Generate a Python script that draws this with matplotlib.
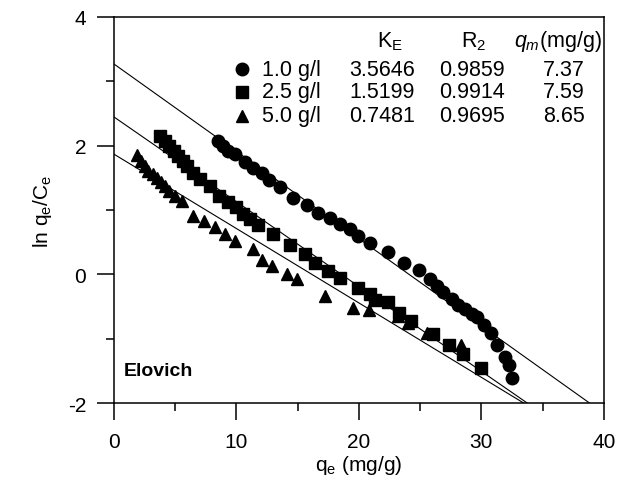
import numpy as np
import matplotlib
matplotlib.use('Agg')
import matplotlib.pyplot as plt

plt.rcParams['font.family'] = ['Liberation Sans', 'DejaVu Sans']
plt.rcParams['mathtext.fontset'] = 'custom'
plt.rcParams['mathtext.rm'] = 'Liberation Sans'
plt.rcParams['mathtext.it'] = 'Liberation Sans:italic'
plt.rcParams['axes.unicode_minus'] = False

# 1.0 g/l (circles)
qe_1 = [8.51, 8.92, 9.33, 9.88, 10.69, 11.37, 12.06, 12.68, 13.55, 14.64, 15.73, 16.68,
        17.63, 18.45, 19.27, 19.92, 20.90, 22.39, 23.70, 24.92, 25.80, 26.34, 26.88,
        27.57, 28.11, 28.65, 29.20, 29.61, 30.23, 30.75, 31.24, 31.92, 32.27, 32.51]
lnq_1 = [2.07, 2.00, 1.92, 1.87, 1.75, 1.66, 1.58, 1.46, 1.35, 1.19, 1.07, 0.96,
         0.88, 0.78, 0.70, 0.60, 0.48, 0.35, 0.18, 0.07, -0.07, -0.18, -0.28,
         -0.39, -0.47, -0.54, -0.61, -0.67, -0.78, -0.91, -1.10, -1.28, -1.41, -1.61]

# 2.5 g/l (squares)
qe_2 = [3.76, 4.16, 4.51, 4.90, 5.25, 5.66, 5.98, 6.47, 7.02, 7.84, 8.60, 9.33, 9.96,
        10.55, 11.10, 11.78, 13.00, 14.37, 15.59, 16.41, 17.49, 18.45, 19.94, 20.90,
        21.31, 22.39, 23.29, 24.22, 26.07, 27.35, 28.52, 29.96]
lnq_2 = [2.15, 2.07, 2.00, 1.92, 1.84, 1.76, 1.68, 1.58, 1.48, 1.37, 1.22, 1.12, 1.04,
         0.93, 0.86, 0.76, 0.62, 0.45, 0.31, 0.18, 0.05, -0.05, -0.21, -0.30,
         -0.40, -0.43, -0.60, -0.73, -0.92, -1.10, -1.24, -1.45]

# 5.0 g/l (triangles)
qe_3 = [1.85, 2.18, 2.53, 2.80, 3.16, 3.49, 3.81, 4.16, 4.51, 4.98, 5.53, 6.47, 7.37,
        8.24, 9.06, 9.88, 11.37, 12.06, 12.87, 14.10, 14.91, 17.22, 19.53, 20.84,
        23.16, 24.03, 25.53, 28.30]
lnq_3 = [1.85, 1.76, 1.68, 1.60, 1.56, 1.49, 1.43, 1.37, 1.30, 1.22, 1.14, 0.91, 0.83,
         0.73, 0.62, 0.52, 0.39, 0.23, 0.13, 0.00, -0.08, -0.34, -0.52, -0.56,
         -0.65, -0.76, -0.91, -1.10]

doses = ['1.0 g/l', '2.5 g/l', '5.0 g/l']
ke = ['3.5646', '1.5199', '0.7481']
r2 = ['0.9859', '0.9914', '0.9695']
qm = ['7.37', '7.59', '8.65']
markers = ['o', 's', '^']
msizes = [9, 8, 9]

# Elovich fit: ln(qe/Ce) = ln(KE*qm) - qe/qm
fit_x = [0, 40]

fig = plt.figure(figsize=(6.28, 4.85), dpi=100)
ax = fig.add_axes([0.1815, 0.167, 0.780, 0.796])

for k, q in zip(ke, qm):
    b = np.log(float(k) * float(q))
    ax.plot(fit_x, [b - x / float(q) for x in fit_x], color='black', lw=0.8)

for xs, ys, m, s in zip([qe_1, qe_2, qe_3], [lnq_1, lnq_2, lnq_3], markers, msizes):
    ax.plot(xs, ys, m, color='black', ms=s, mec='black', ls='none')

ax.set_xlim(0, 40)
ax.set_ylim(-2, 4)
ax.set_xticks([0, 10, 20, 30, 40])
ax.set_xticks([5, 15, 25, 35], minor=True)
ax.set_yticks([-2, 0, 2, 4])
ax.set_yticks([-1, 1, 3], minor=True)
ax.tick_params(which='major', direction='out', length=12, width=1.1, labelsize=15, pad=9)
ax.tick_params(which='minor', direction='out', length=6, width=1.1)
ax.tick_params(axis='y', pad=8)
for sp in ax.spines.values():
    sp.set_linewidth(1.1)

ax.set_xlabel(r'q$_\mathregular{e}$ (mg/g)', fontsize=15, labelpad=1)
ax.set_ylabel(r'ln q$_\mathregular{e}$/C$_\mathregular{e}$', fontsize=15, labelpad=10)

ax.text(0.02, 0.085, 'Elovich', transform=ax.transAxes, fontsize=14, fontweight='bold',
        va='center', ha='left')

# table inside the plot
fs = 15.5
ax.text(0.563, 0.938, r'K$_\mathregular{E}$', transform=ax.transAxes, fontsize=fs, ha='center', va='center')
ax.text(0.735, 0.938, r'R$_\mathregular{2}$', transform=ax.transAxes, fontsize=fs, ha='center', va='center')
ax.text(0.906, 0.938, r'$q_m$(mg/g)', transform=ax.transAxes, fontsize=fs, ha='center', va='center')
rows_y = [0.865, 0.806, 0.744]
for i in range(3):
    y = rows_y[i]
    ax.plot([0.261], [y], markers[i], color='black', ms=msizes[i], transform=ax.transAxes, clip_on=False)
    ax.text(0.302, y, doses[i], transform=ax.transAxes, fontsize=fs, ha='left', va='center')
    ax.text(0.547, y, ke[i], transform=ax.transAxes, fontsize=fs, ha='center', va='center')
    ax.text(0.731, y, r2[i], transform=ax.transAxes, fontsize=fs, ha='center', va='center')
    ax.text(0.918, y, qm[i], transform=ax.transAxes, fontsize=fs, ha='center', va='center')

fig.savefig('out.png', dpi=100)
